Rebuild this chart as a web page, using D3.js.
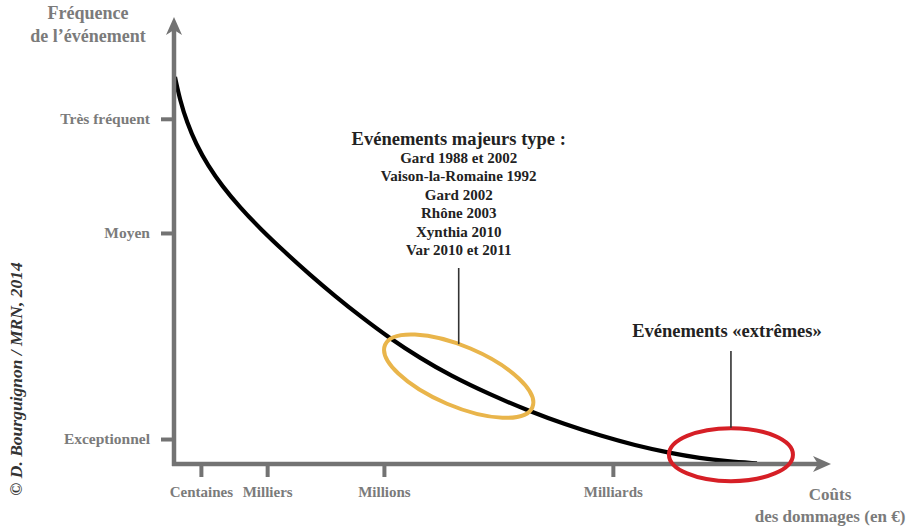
<!DOCTYPE html>
<html><head><meta charset="utf-8">
<script src="https://cdn.jsdelivr.net/npm/d3@7"></script>
<style>
html,body{margin:0;padding:0;background:#fff;}
svg text{font-family:"Liberation Serif","Times New Roman",Tinos,"DejaVu Serif",serif !important;}
</style></head>
<body>
<svg id="chart" width="911" height="529"></svg>
<script>
// ---- data ----
const curveCost = [0.15, 0.91, 1.98, 3.35, 5.18, 7.32, 10.06, 13.11, 16.92, 20.73, 24.54, 28.35, 32.93, 37.5, 42.07, 48.17, 54.27, 59.6, 64.94, 70.27, 75.61, 80.18, 84.3, 88.87];
const curveFreq = [86.77, 81.61, 76.59, 71.75, 66.91, 62.35, 57.51, 52.8, 47.47, 42.42, 37.67, 33.18, 28.14, 23.77, 19.87, 15.56, 11.79, 8.88, 6.37, 4.17, 2.44, 1.3, 0.6, 0.15];
const yTickValues = [77.4, 51.8, 5.6];
const yTickLabels = ["Très fréquent", "Moyen", "Exceptionnel"];
const xTickValues = [4.1, 14.2, 32.0, 66.9];
const xTickLabels = ["Centaines", "Milliers", "Millions", "Milliards"];
const majorTitle = "Evénements majeurs type :";
const majorEvents = ["Gard 1988 et 2002", "Vaison-la-Romaine 1992", "Gard 2002", "Rhône 2003", "Xynthia 2010", "Var 2010 et 2011"];
const extremeTitle = "Evénements «extrêmes»";
const yTitle = ["Fréquence", "de l’événement"];
const xTitle = ["Coûts", "des dommages (en €)"];
const credit = "© D. Bourguignon / MRN, 2014";
// annotation zones in data units: centre cost, centre freq
const majorZone = {cost: 43.4, freq: 19.7};
const extremeZone = {cost: 84.9, freq: 2.1};

// ---- layout ----
const svg = d3.select("#chart");
const x = d3.scaleLinear().domain([0, 100]).range([174, 830]);
const y = d3.scaleLinear().domain([0, 100]).range([464, 18]);
const axisCol = "#737373", labelCol = "#7b7b7b";

// curve
const pts = curveCost.map((c, i) => [c, curveFreq[i]]);
svg.append("path").datum(pts)
  .attr("d", d3.line().x(d => x(d[0])).y(d => y(d[1])).curve(d3.curveBasis))
  .attr("fill", "none").attr("stroke", "#000").attr("stroke-width", 4.2);

// axes
const yAxis = d3.axisLeft(y).tickValues(yTickValues).tickFormat((d, i) => yTickLabels[i])
  .tickSize(13).tickPadding(11);
const gy = svg.append("g").attr("transform", `translate(${x(0)},0)`).call(yAxis);
gy.select(".domain").remove();
gy.selectAll(".tick line").attr("stroke", axisCol).attr("stroke-width", 4);
gy.selectAll(".tick text").attr("fill", labelCol).attr("font-size", 15.5).attr("font-weight", "bold");

const xAxis = d3.axisBottom(x).tickValues(xTickValues).tickFormat((d, i) => xTickLabels[i])
  .tickSize(13).tickPadding(9);
const gx = svg.append("g").attr("transform", `translate(0,${y(0)})`).call(xAxis);
gx.select(".domain").remove();
gx.selectAll(".tick line").attr("stroke", axisCol).attr("stroke-width", 4);
gx.selectAll(".tick text").attr("fill", labelCol).attr("font-size", 15).attr("font-weight", "bold");

// axis lines + arrows
svg.append("line").attr("x1", x(0)).attr("y1", y(0) + 2).attr("x2", x(0)).attr("y2", y(100) + 12)
  .attr("stroke", axisCol).attr("stroke-width", 4.5);
svg.append("line").attr("x1", x(0) - 2).attr("y1", y(0)).attr("x2", x(100) - 12).attr("y2", y(0))
  .attr("stroke", axisCol).attr("stroke-width", 4.5);
svg.append("path").attr("d", `M${x(0)},${y(100) - 1} L${x(0) + 8},${y(100) + 17} L${x(0)},${y(100) + 12} L${x(0) - 8},${y(100) + 17}Z`)
  .attr("fill", axisCol);
svg.append("path").attr("d", `M${x(100) + 1},${y(0)} L${x(100) - 17},${y(0) - 8} L${x(100) - 12},${y(0)} L${x(100) - 17},${y(0) + 8}Z`)
  .attr("fill", axisCol);

// axis titles
const yt = svg.append("text").attr("text-anchor", "middle").attr("fill", labelCol)
  .attr("font-size", 18).attr("font-weight", "bold");
yTitle.forEach((t, i) => yt.append("tspan").attr("x", 88).attr("y", 19 + i * 23).text(t));
const xt = svg.append("text").attr("text-anchor", "middle").attr("fill", labelCol)
  .attr("font-size", 17).attr("font-weight", "bold");
xTitle.forEach((t, i) => xt.append("tspan").attr("x", 830).attr("y", 500 + i * 22).text(t));

// major events zone
const mx = x(majorZone.cost), my = y(majorZone.freq);
svg.append("ellipse").attr("cx", 0).attr("cy", 0).attr("rx", 80).attr("ry", 30)
  .attr("transform", `translate(${mx},${my}) rotate(23)`)
  .attr("fill", "none").attr("stroke", "#E9B54B").attr("stroke-width", 4);
svg.append("line").attr("x1", mx).attr("x2", mx).attr("y1", 268).attr("y2", my - 32)
  .attr("stroke", "#333").attr("stroke-width", 1.6);
svg.append("text").attr("x", mx).attr("y", 145).attr("text-anchor", "middle")
  .attr("font-size", 18.5).attr("font-weight", "bold").attr("fill", "#222").text(majorTitle);
svg.append("g").selectAll("text").data(majorEvents).join("text")
  .attr("x", mx).attr("y", (d, i) => 163 + i * 18.4).attr("text-anchor", "middle")
  .attr("font-size", 15).attr("font-weight", "bold").attr("fill", "#222").text(d => d);

// extreme zone
const ex = x(extremeZone.cost), ey = y(extremeZone.freq);
svg.append("ellipse").attr("cx", ex).attr("cy", ey).attr("rx", 62).attr("ry", 26.5)
  .attr("fill", "none").attr("stroke", "#D61F26").attr("stroke-width", 4);
svg.append("line").attr("x1", ex).attr("x2", ex).attr("y1", 351).attr("y2", ey - 27)
  .attr("stroke", "#333").attr("stroke-width", 1.6);
svg.append("text").attr("x", ex - 4).attr("y", 337).attr("text-anchor", "middle")
  .attr("font-size", 18.5).attr("font-weight", "bold").attr("fill", "#222").text(extremeTitle);

// credit
svg.append("text").attr("transform", "translate(22,379) rotate(-90)").attr("text-anchor", "middle")
  .attr("font-size", 17.5).attr("font-weight", "bold").attr("font-style", "italic").attr("fill", "#333")
  .text(credit);
</script>
</body></html>
